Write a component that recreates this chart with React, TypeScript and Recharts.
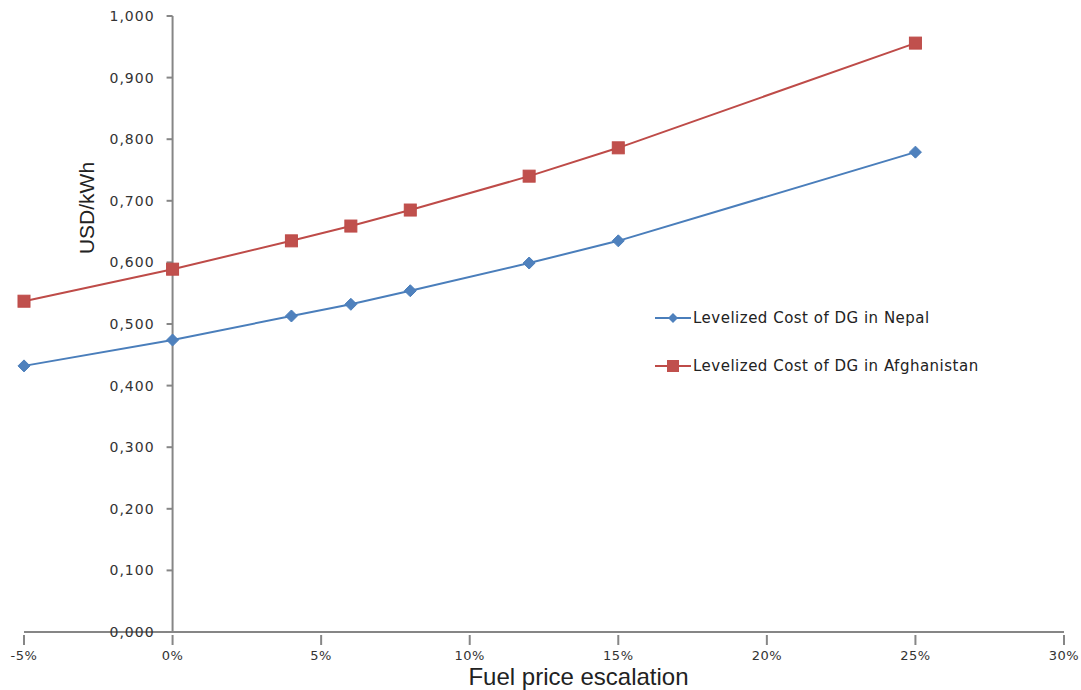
import {
  LineChart,
  Line,
  XAxis,
  YAxis,
  ReferenceLine,
  ReferenceDot,
} from "recharts";

const escalation = [-5, 0, 4, 6, 8, 12, 15, 25];
const nepal = [0.432, 0.474, 0.513, 0.532, 0.554, 0.599, 0.635, 0.779];
const afghanistan = [0.537, 0.589, 0.635, 0.659, 0.685, 0.74, 0.786, 0.956];
const xTicks = [-5, 0, 5, 10, 15, 20, 25, 30];
const yTicks = [0, 0.1, 0.2, 0.3, 0.4, 0.5, 0.6, 0.7, 0.8, 0.9, 1.0];

const NEPAL_NAME = "Levelized Cost of DG in Nepal";
const AFG_NAME = "Levelized Cost of DG in Afghanistan";

const data = escalation.map((x, i) => ({
  x,
  nepal: nepal[i],
  afghanistan: afghanistan[i],
}));

const AXIS = "#868686";
const BLUE_LINE = "#4a7ebb";
const BLUE = "#4f81bd";
const RED_LINE = "#be4b48";
const RED = "#c0504d";
const TICK_FONT = "'DejaVu Sans', Verdana, sans-serif";
const TITLE_FONT = "'Liberation Sans Narrow', 'Liberation Sans', sans-serif";

function Diamond(props: any) {
  const { cx, cy, index } = props;
  if (cx == null || cy == null) return null;
  const r = 6;
  return (
    <path
      key={"d" + index}
      d={`M${cx},${cy - r} L${cx + r},${cy} L${cx},${cy + r} L${cx - r},${cy} Z`}
      fill={BLUE}
      stroke={BLUE_LINE}
      strokeWidth={1}
    />
  );
}

function Square(props: any) {
  const { cx, cy, index } = props;
  if (cx == null || cy == null) return null;
  const s = 6;
  return (
    <rect
      key={"s" + index}
      x={cx - s}
      y={cy - s}
      width={s * 2}
      height={s * 2}
      fill={RED}
      stroke={RED_LINE}
      strokeWidth={1}
    />
  );
}

function XTick(props: any) {
  const { x, y, payload } = props;
  return (
    <g>
      <line x1={x} y1={y - 5} x2={x} y2={y + 5} stroke={AXIS} strokeWidth={2} />
      <text
        x={x}
        y={y + 20}
        textAnchor="middle"
        fontSize={13}
        fontFamily={TICK_FONT}
        fill="#333"
        letterSpacing={0.5}
      >
        {payload.value}%
      </text>
    </g>
  );
}

function YTick(props: any) {
  const { cx, cy, value } = props;
  if (cx == null || cy == null) return null;
  return (
    <g>
      <line x1={cx - 6} y1={cy} x2={cx} y2={cy} stroke={AXIS} strokeWidth={2} />
      <text
        x={cx - 18}
        y={cy + 5}
        textAnchor="end"
        fontSize={14}
        fontFamily={TICK_FONT}
        fill="#333"
        letterSpacing={1}
      >
        {value.toFixed(3).replace(".", ",")}
      </text>
    </g>
  );
}

function LegendBox() {
  const items = [
    { name: NEPAL_NAME, color: BLUE, line: BLUE_LINE, shape: "diamond" },
    { name: AFG_NAME, color: RED, line: RED_LINE, shape: "square" },
  ];
  return (
    <div style={{ position: "absolute", left: 655, top: 294 }}>
      {items.map((it) => (
        <div
          key={it.name}
          style={{ display: "flex", alignItems: "center", height: 48 }}
        >
          <svg width={38} height={16}>
            <line x1={0} y1={8} x2={36} y2={8} stroke={it.line} strokeWidth={2} />
            {it.shape === "diamond" ? (
              <path d="M18,3 L23,8 L18,13 L13,8 Z" fill={it.color} />
            ) : (
              <rect x={12} y={2} width={12} height={12} fill={it.color} />
            )}
          </svg>
          <span
            style={{
              fontFamily: TICK_FONT,
              fontSize: 15,
              letterSpacing: 0.5,
              color: "#222",
              whiteSpace: "nowrap",
            }}
          >
            {it.name}
          </span>
        </div>
      ))}
    </div>
  );
}

export default function App() {
  return (
    <div
      style={{
        position: "absolute",
        left: 0,
        top: 0,
        width: 1081,
        height: 690,
        background: "#fff",
      }}
    >
      <LineChart
        width={1081}
        height={690}
        data={data}
        margin={{ top: 16, right: 17, bottom: 0, left: 24 }}
      >
        <XAxis
          dataKey="x"
          type="number"
          domain={[-5, 30]}
          ticks={xTicks}
          interval={0}
          height={58}
          axisLine={{ stroke: AXIS, strokeWidth: 2 }}
          tickLine={false}
          tick={<XTick />}
        />
        <YAxis hide type="number" domain={[0, 1]} ticks={yTicks} />
        <ReferenceLine
          segment={[
            { x: 0, y: 0 },
            { x: 0, y: 1 },
          ]}
          stroke={AXIS}
          strokeWidth={2}
        />
        {yTicks.map((t) => (
          <ReferenceDot
            key={t}
            x={0}
            y={t}
            r={0}
            shape={(p: any) => <YTick {...p} value={t} />}
          />
        ))}
        <Line
          name={NEPAL_NAME}
          dataKey="nepal"
          type="linear"
          stroke={BLUE_LINE}
          strokeWidth={2}
          dot={<Diamond />}
          activeDot={false}
          isAnimationActive={false}
        />
        <Line
          name={AFG_NAME}
          dataKey="afghanistan"
          type="linear"
          stroke={RED_LINE}
          strokeWidth={2}
          dot={<Square />}
          activeDot={false}
          isAnimationActive={false}
        />
      </LineChart>
      <LegendBox />
      <div
        style={{
          position: "absolute",
          left: 0,
          width: 1081,
          top: 665,
          lineHeight: "24px",
          textAlign: "center",
          paddingLeft: 76,
          boxSizing: "border-box",
          fontFamily: TITLE_FONT,
          fontSize: 24,
          color: "#222",
        }}
      >
        Fuel price escalation
      </div>
      <div
        style={{
          position: "absolute",
          left: 87,
          top: 208,
          transform: "translate(-50%, -50%) rotate(-90deg)",
          fontFamily: TITLE_FONT,
          fontSize: 21,
          color: "#222",
          whiteSpace: "nowrap",
        }}
      >
        USD/kWh
      </div>
    </div>
  );
}
